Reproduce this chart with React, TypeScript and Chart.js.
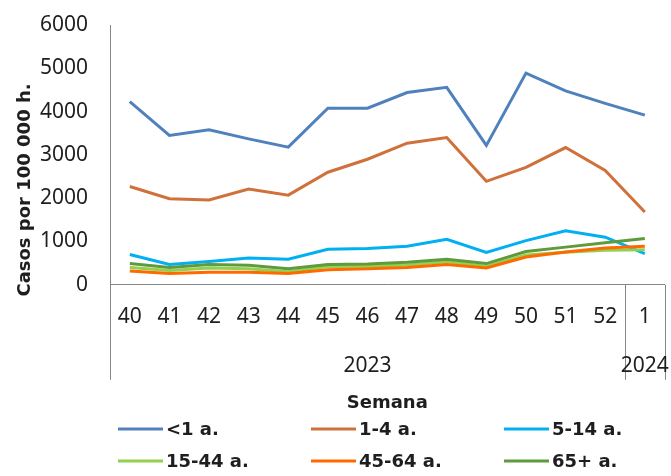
import React, { useEffect, useRef } from "react";
import { Chart, registerables } from "chart.js";

Chart.register(...registerables);

const weeks = ["40", "41", "42", "43", "44", "45", "46", "47", "48", "49", "50", "51", "52", "1"];
const yearLabels = ["2023", "2024"];
const yearSpans = [13, 1];

const seriesNames = ["<1 a.", "1-4 a.", "5-14 a.", "15-44 a.", "45-64 a.", "65+ a."];
const seriesColors = ["#4f81bd", "#d0703a", "#00b0f0", "#92d050", "#ff6a00", "#5f9a3c"];

const under1 = [4230, 3450, 3580, 3370, 3180, 4080, 4080, 4440, 4560, 3220, 4890, 4480, 4190, 3920];
const age1to4 = [2270, 1990, 1960, 2210, 2070, 2600, 2900, 3270, 3400, 2390, 2710, 3170, 2640, 1680];
const age5to14 = [700, 470, 540, 620, 590, 820, 840, 890, 1050, 750, 1020, 1250, 1100, 720];
const age15to44 = [400, 330, 390, 370, 300, 420, 430, 460, 530, 430, 690, 750, 800, 810];
const age45to64 = [320, 260, 290, 290, 260, 350, 370, 400, 470, 390, 640, 760, 850, 890];
const age65plus = [490, 400, 470, 450, 370, 470, 480, 520, 590, 490, 770, 870, 970, 1070];

const yTitle = "Casos por 100 000 h.";
const xTitle = "Semana";

const TEXT = "#1e1e1e";
const AXIS = "#868686";
const BOLD_FONT = "bold 18px 'DejaVu Sans'";

const decorPlugin = {
  id: "decor",
  afterDraw(chart: any) {
    const { ctx, chartArea, scales } = chart;
    const x = scales.x;
    const half = (x.getPixelForValue(1) - x.getPixelForValue(0)) / 2;
    const bottom = chartArea.bottom;
    ctx.save();

    ctx.strokeStyle = AXIS;
    ctx.lineWidth = 1;
    let idx = 0;
    const bounds: number[] = [x.getPixelForValue(0) - half];
    yearSpans.forEach((span) => {
      idx += span;
      bounds.push(x.getPixelForValue(idx - 1) + half);
    });
    bounds.forEach((bx) => {
      const px = Math.round(bx) + 0.5;
      ctx.beginPath();
      ctx.moveTo(px, bottom);
      ctx.lineTo(px, bottom + 95);
      ctx.stroke();
    });
    ctx.fillStyle = TEXT;
    ctx.font = "21px 'Noto Sans'";
    ctx.textAlign = "center";
    ctx.textBaseline = "middle";
    yearLabels.forEach((lab, i) => {
      ctx.fillText(lab, (bounds[i] + bounds[i + 1]) / 2, bottom + 81);
    });

    ctx.font = BOLD_FONT;
    ctx.fillText(xTitle, (chartArea.left + chartArea.right) / 2, bottom + 119);

    ctx.save();
    ctx.translate(25, 190);
    ctx.rotate(-Math.PI / 2);
    ctx.fillText(yTitle, 0, 0);
    ctx.restore();

    const colX = [118, 311, 504];
    const rowY = [429, 461];
    ctx.textAlign = "left";
    chart.data.datasets.forEach((ds: any, i: number) => {
      const cx = colX[i % 3];
      const cy = rowY[Math.floor(i / 3)];
      ctx.strokeStyle = ds.borderColor;
      ctx.lineWidth = 3;
      ctx.beginPath();
      ctx.moveTo(cx, cy);
      ctx.lineTo(cx + 45, cy);
      ctx.stroke();
      ctx.fillStyle = TEXT;
      ctx.fillText(ds.label, cx + 48, cy + 1);
    });
    ctx.restore();
  },
};

export default function App() {
  const ref = useRef<HTMLCanvasElement | null>(null);

  useEffect(() => {
    document.body.style.margin = "0";
    const allSeries = [under1, age1to4, age5to14, age15to44, age45to64, age65plus];
    const chart = new Chart(ref.current as HTMLCanvasElement, {
      type: "line",
      data: {
        labels: weeks,
        datasets: allSeries.map((vals, i) => ({
          label: seriesNames[i],
          data: vals,
          borderColor: seriesColors[i],
          backgroundColor: seriesColors[i],
          borderWidth: 3,
          pointRadius: 0,
          tension: 0,
          fill: false,
          order: allSeries.length - i,
        })),
      },
      options: {
        animation: false,
        responsive: false,
        layout: { padding: { top: 25, right: 5, bottom: 126, left: 0 } },
        plugins: { legend: { display: false }, tooltip: { enabled: false } },
        scales: {
          x: {
            type: "category",
            offset: true,
            grid: { display: false, drawTicks: false },
            border: { display: true, color: AXIS, width: 1 },
            ticks: {
              color: TEXT,
              font: { family: "Noto Sans", size: 21 },
              padding: 20,
              maxRotation: 0,
              autoSkip: false,
            },
          },
          y: {
            min: 0,
            max: 6000,
            grid: { display: false, drawTicks: false },
            border: { display: true, color: AXIS, width: 1 },
            ticks: {
              stepSize: 1000,
              color: TEXT,
              font: { family: "Noto Sans", size: 21 },
              padding: 22,
              callback: (v: any) => String(v),
            },
            afterFit: (s: any) => {
              s.width = 110;
              s.paddingTop = 0;
              s.paddingBottom = 0;
            },
          },
        },
      },
      plugins: [decorPlugin],
    });
    return () => chart.destroy();
  }, []);

  return (
    <div style={{ width: 671, height: 476 }}>
      <canvas ref={ref} width={671} height={476} style={{ width: 671, height: 476, display: "block" }} />
    </div>
  );
}
